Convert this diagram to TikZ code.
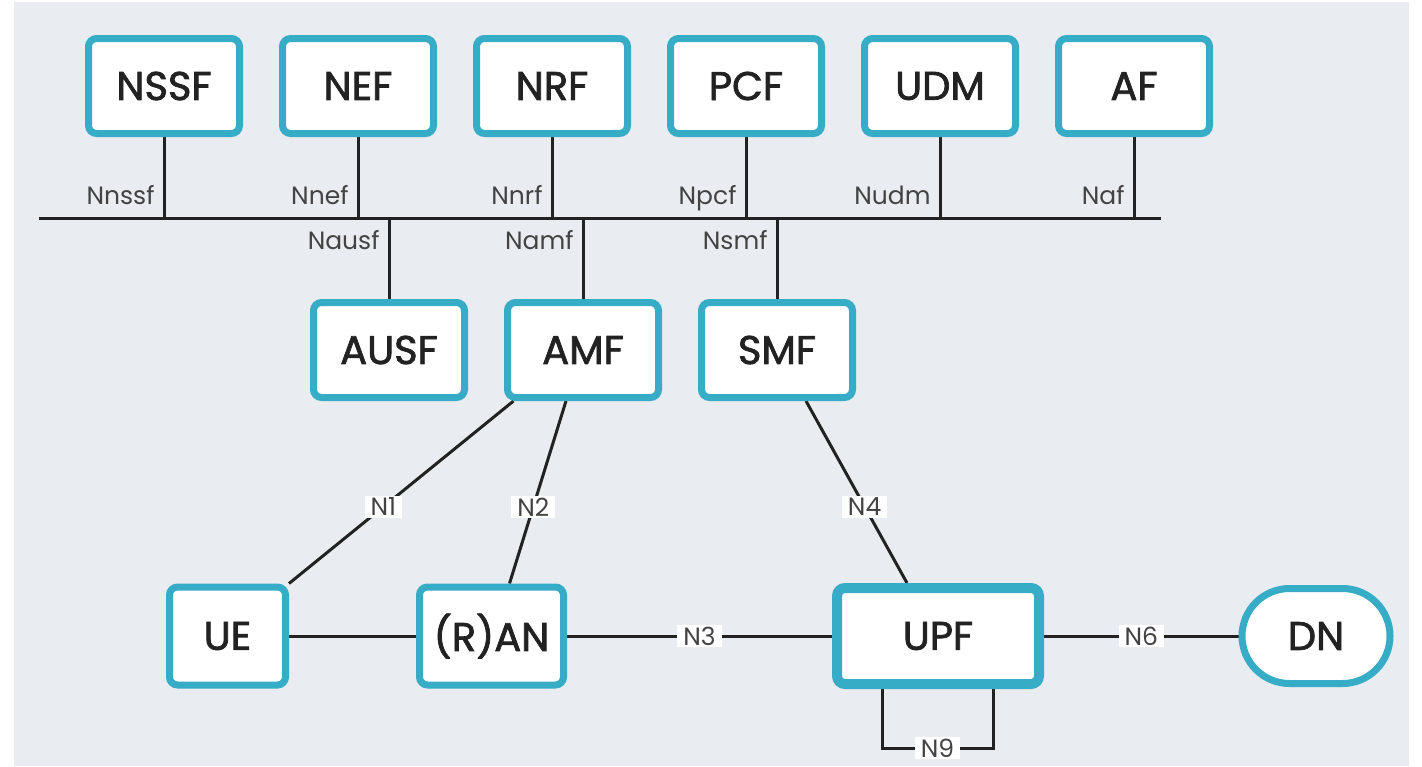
\documentclass[tikz,border=0pt]{standalone}
\usepackage{fontspec}
\setmainfont{Poppins}
\newfontfamily\nffont{Poppins}[FakeBold=1.8]
\usetikzlibrary{shapes.misc,backgrounds}
\definecolor{nfteal}{RGB}{55,172,198}
\definecolor{bggray}{RGB}{233,236,240}
\definecolor{ink}{RGB}{34,34,34}

\begin{document}
\begin{tikzpicture}[x=0.5pt, y=0.5pt, node distance=97pt,
    nf/.style={draw=nfteal, line width=3.5pt, fill=white, rounded corners=4pt,
        minimum width=75.5pt, minimum height=47.5pt, inner sep=0pt,
        font=\nffont\fontsize{20}{24}\selectfont, text=ink},
    iface/.style={font=\fontsize{12.5}{14}\selectfont, text=ink!85, inner sep=0pt},
    ref/.style={iface, fill=white, inner xsep=3pt, inner ysep=1pt},
    link/.style={draw=ink, line width=1.5pt}]
    \useasboundingbox (0,0) rectangle (1422,-766);

    % network functions on the service bus
    \node[nf] (nssf) at (164,-86) {NSSF};
    \node[nf, right of=nssf] (nef) {NEF};
    \node[nf, right of=nef] (nrf) {NRF};
    \node[nf, right of=nrf] (pcf) {PCF};
    \node[nf, right of=pcf] (udm) {UDM};
    \node[nf, right of=udm] (af) {AF};
    \node[nf, below of=nef, xshift=15.5pt, yshift=-35pt] (ausf) {AUSF};
    \node[nf, right of=ausf] (amf) {AMF};
    \node[nf, right of=amf] (smf) {SMF};

    % user plane
    \node[nf, below of=amf, xshift=-45.75pt, yshift=-46pt, minimum width=72pt, minimum height=49pt] (ran) {(R)AN};
    \node[nf, left of=ran, xshift=-35pt, minimum width=58pt, minimum height=49pt] (ue) {UE};
    \node[nf, right of=ran, xshift=126.25pt, line width=5pt, minimum width=101pt, minimum height=48pt] (upf) {UPF};
    \node[nf, right of=upf, xshift=92pt, rounded rectangle, sharp corners, minimum width=74pt, minimum height=47.5pt] (dn) {DN};

    \coordinate (busL) at (39,-218);
    \coordinate (busR) at (1161,-218);

    \begin{scope}[on background layer]
        \fill[bggray] (14,-2) rectangle (1409,-766);
        \draw[link] (busL) -- (busR);
        \draw[link] (nssf.south) -- (nssf.south |- busL) node[iface, anchor=base east, xshift=-4pt, yshift=7pt] {Nnssf};
        \draw[link] (nef.south) -- (nef.south |- busL) node[iface, anchor=base east, xshift=-4pt, yshift=7pt] {Nnef};
        \draw[link] (nrf.south) -- (nrf.south |- busL) node[iface, anchor=base east, xshift=-4pt, yshift=7pt] {Nnrf};
        \draw[link] (pcf.south) -- (pcf.south |- busL) node[iface, anchor=base east, xshift=-4pt, yshift=7pt] {Npcf};
        \draw[link] (udm.south) -- (udm.south |- busL) node[iface, anchor=base east, xshift=-4pt, yshift=7pt] {Nudm};
        \draw[link] (af.south) -- (af.south |- busL) node[iface, anchor=base east, xshift=-4pt, yshift=7pt] {Naf};
        \draw[link] (ausf.north) -- (ausf.north |- busL) node[iface, anchor=base east, xshift=-4pt, yshift=-15.5pt] {Nausf};
        \draw[link] (amf.north) -- (amf.north |- busL) node[iface, anchor=base east, xshift=-4pt, yshift=-15.5pt] {Namf};
        \draw[link] (smf.north) -- (smf.north |- busL) node[iface, anchor=base east, xshift=-4pt, yshift=-15.5pt] {Nsmf};

        % reference points
        \draw[link] ([xshift=4.75pt]amf.south west) -- node[ref, pos=0.58] {N1} (ue.north east);
        \draw[link] ([xshift=-8.5pt]amf.south) -- node[ref, pos=0.58] {N2} ([xshift=9pt]ran.north);
        \draw[link] ([xshift=14.5pt]smf.south) -- node[ref, pos=0.58] {N4} ([xshift=-15.5pt]upf.north);
        \draw[link] (ue.east) -- (ran.west);
        \draw[link] (ran.east) -- node[ref] {N3} (upf.west);
        \draw[link] (upf.east) -- node[ref] {N6} (dn.west);
        \draw[link] ([xshift=-28pt]upf.south) -- ++(0,-29.5pt) -| node[ref, pos=0.25] {N9} ([xshift=27.5pt]upf.south);
    \end{scope}
\end{tikzpicture}
\end{document}
